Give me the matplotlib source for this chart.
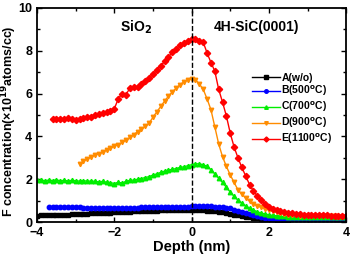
import numpy as np
import matplotlib
matplotlib.use('Agg')
import matplotlib.pyplot as plt
from matplotlib.ticker import MultipleLocator

plt.rcParams['font.family'] = 'Liberation Sans'
plt.rcParams['font.weight'] = 'bold'
plt.rcParams['mathtext.default'] = 'bf'

# depth grid (nm), 0.1 nm step as read from the profile
depth = [-4.0, -3.9, -3.8, -3.7, -3.6, -3.5, -3.4, -3.3, -3.2, -3.1,
         -3.0, -2.9, -2.8, -2.7, -2.6, -2.5, -2.4, -2.3, -2.2, -2.1,
         -2.0, -1.9, -1.8, -1.7, -1.6, -1.5, -1.4, -1.3, -1.2, -1.1,
         -1.0, -0.9, -0.8, -0.7, -0.6, -0.5, -0.4, -0.3, -0.2, -0.1,
         0.0, 0.1, 0.2, 0.3, 0.4, 0.5, 0.6, 0.7, 0.8, 0.9,
         1.0, 1.1, 1.2, 1.3, 1.4, 1.5, 1.6, 1.7, 1.8, 1.9,
         2.0, 2.1, 2.2, 2.3, 2.4, 2.5, 2.6, 2.7, 2.8, 2.9,
         3.0, 3.1, 3.2, 3.3, 3.4, 3.5, 3.6, 3.7, 3.8, 3.9, 4.0]

nan = np.nan
conc_A = [0.30, 0.31, 0.31, 0.32, 0.33, 0.33, 0.34, 0.34, 0.35, 0.36,
          0.37, 0.37, 0.38, 0.39, 0.40, 0.40, 0.41, 0.42, 0.43, 0.44,
          0.45, 0.46, 0.47, 0.48, 0.49, 0.50, 0.50, 0.51, 0.52, 0.52,
          0.53, 0.53, 0.54, 0.54, 0.55, 0.55, 0.55, 0.55, 0.55, 0.55,
          0.55, 0.55, 0.54, 0.54, 0.53, 0.52, 0.50, 0.48, 0.45, 0.42,
          0.39, 0.35, 0.32, 0.28, 0.25, 0.22, 0.20, 0.18, 0.16, 0.14,
          0.13, 0.12, 0.10, 0.09, 0.09, 0.08, nan, nan, nan, nan,
          nan, nan, nan, nan, nan, nan, nan, nan, nan, nan, nan]
conc_B = [nan, nan, nan, 0.72, 0.70, 0.70, 0.69, 0.69, 0.68, 0.68,
          0.68, 0.68, 0.67, 0.67, 0.67, 0.67, 0.66, 0.66, 0.66, 0.66,
          0.66, 0.66, 0.66, 0.67, 0.67, 0.67, 0.67, 0.68, 0.68, 0.68,
          0.69, 0.69, 0.69, 0.70, 0.70, 0.71, 0.71, 0.72, 0.72, 0.72,
          0.73, 0.74, 0.74, 0.74, 0.74, 0.73, 0.72, 0.71, 0.68, 0.66,
          0.64, 0.58, 0.52, 0.46, 0.41, 0.36, 0.31, 0.27, 0.23, 0.20,
          0.18, 0.16, 0.15, 0.14, 0.13, 0.13, 0.12, 0.12, 0.12, 0.12,
          0.12, 0.12, 0.12, 0.12, 0.12, 0.12, 0.12, 0.12, 0.12, 0.12, 0.12]
conc_C = [1.95, 1.97, 1.93, 1.96, 1.94, 1.97, 1.93, 1.95, 1.92, 1.95,
          1.93, 1.91, 1.94, 1.90, 1.92, 1.90, 1.88, 1.90, 1.86, 1.84,
          1.80, 1.86, 1.82, 1.90, 1.95, 1.96, 2.00, 2.03, 2.08, 2.12,
          2.20, 2.25, 2.32, 2.38, 2.43, 2.46, 2.50, 2.55, 2.58, 2.63,
          2.68, 2.72, 2.72, 2.68, 2.60, 2.45, 2.25, 2.05, 1.85, 1.62,
          1.40, 1.20, 1.02, 0.88, 0.75, 0.65, 0.56, 0.48, 0.42, 0.38,
          0.34, 0.31, 0.29, 0.27, 0.26, 0.25, 0.25, 0.24, 0.24, 0.24,
          0.23, 0.23, 0.23, 0.23, 0.22, 0.22, 0.22, 0.22, 0.22, 0.22, 0.22]
conc_D = [nan, nan, nan, nan, nan, nan, nan, nan, nan, nan,
          nan, 2.72, 2.85, 2.95, 3.05, 3.12, 3.20, 3.28, 3.38, 3.45,
          3.55, 3.62, 3.72, 3.82, 3.95, 4.08, 4.22, 4.35, 4.48, 4.62,
          4.90, 5.15, 5.40, 5.65, 5.88, 6.08, 6.25, 6.42, 6.55, 6.65,
          6.70, 6.65, 6.45, 6.20, 5.75, 5.25, 4.45, 3.65, 3.05, 2.60,
          2.20, 1.85, 1.50, 1.30, 1.12, 0.98, 0.86, 0.76, 0.68, 0.62,
          0.56, 0.50, 0.45, 0.41, 0.38, 0.35, 0.33, 0.31, 0.30, 0.29,
          0.28, 0.28, 0.27, 0.27, 0.27, 0.26, 0.26, 0.26, 0.25, 0.25, 0.25]
conc_E = [nan, nan, nan, nan, 4.82, 4.80, 4.83, 4.81, 4.84, 4.80,
          4.78, 4.82, 4.85, 4.90, 4.93, 4.98, 5.05, 5.10, 5.15, 5.20,
          5.30, 5.75, 6.00, 5.95, 6.25, 6.30, 6.30, 6.45, 6.60, 6.75,
          6.90, 7.10, 7.30, 7.50, 7.70, 7.95, 8.10, 8.25, 8.35, 8.45,
          8.55, 8.55, 8.45, 8.40, 7.90, 7.45, 7.05, 6.20, 5.60, 4.95,
          4.15, 3.50, 3.00, 2.55, 2.15, 1.75, 1.45, 1.22, 1.02, 0.85,
          0.70, 0.62, 0.55, 0.50, 0.46, 0.42, 0.40, 0.38, 0.36, 0.35,
          0.34, 0.33, 0.32, 0.32, 0.31, 0.31, 0.30, 0.30, 0.30, 0.30, 0.30]

labels = ['A(w/o)', 'B(500$^{o}$C)', 'C(700$^{o}$C)', 'D(900$^{o}$C)', 'E(1100$^{o}$C)']
colors = ['black', '#0000ff', '#00ee00', '#ff8c00', '#ff0000']
markers = ['s', 'o', '^', 'v', 'D']

fig = plt.figure(figsize=(3.5, 2.57), dpi=100)
ax = fig.add_axes([0.106, 0.136, 0.883, 0.833])

for y, lab, c, m in zip([conc_A, conc_B, conc_C, conc_D, conc_E], labels, colors, markers):
    ax.plot(depth, y, color=c, marker=m, markersize=3.2, lw=1, label=lab)

ax.axvline(0, color='black', ls='--', lw=1)
ax.text(-1.43, 9.1, 'SiO$_2$', ha='center', va='center', fontsize=10, fontweight='bold')
ax.text(1.69, 9.1, '4H-SiC(0001)', ha='center', va='center', fontsize=10, fontweight='bold')

ax.set_xlim(-4, 4)
ax.set_ylim(0, 10)
ax.xaxis.set_major_locator(MultipleLocator(2))
ax.xaxis.set_minor_locator(MultipleLocator(1))
ax.yaxis.set_major_locator(MultipleLocator(2))
ax.yaxis.set_minor_locator(MultipleLocator(1))
ax.tick_params(which='both', direction='in', top=True, right=True, labelsize=9, width=1)
ax.tick_params(which='major', length=3.5)
ax.tick_params(which='minor', length=2)
for s in ax.spines.values():
    s.set_linewidth(1.3)

ax.set_xlabel('Depth (nm)', fontsize=10.5, fontweight='bold', labelpad=1)
ax.set_ylabel('F concentration(\u00d710$^{19}$atoms/cc)', fontsize=9, fontweight='bold')
ax.yaxis.set_label_coords(-0.058, 0.47)

ax.legend(loc='center right', bbox_to_anchor=(1.0, 0.526), frameon=False, fontsize=7.5,
          handlelength=2.7, handletextpad=0.1, labelspacing=0.15, borderaxespad=0.9,
          markerscale=0.8)

fig.savefig('out.png', dpi=100)
